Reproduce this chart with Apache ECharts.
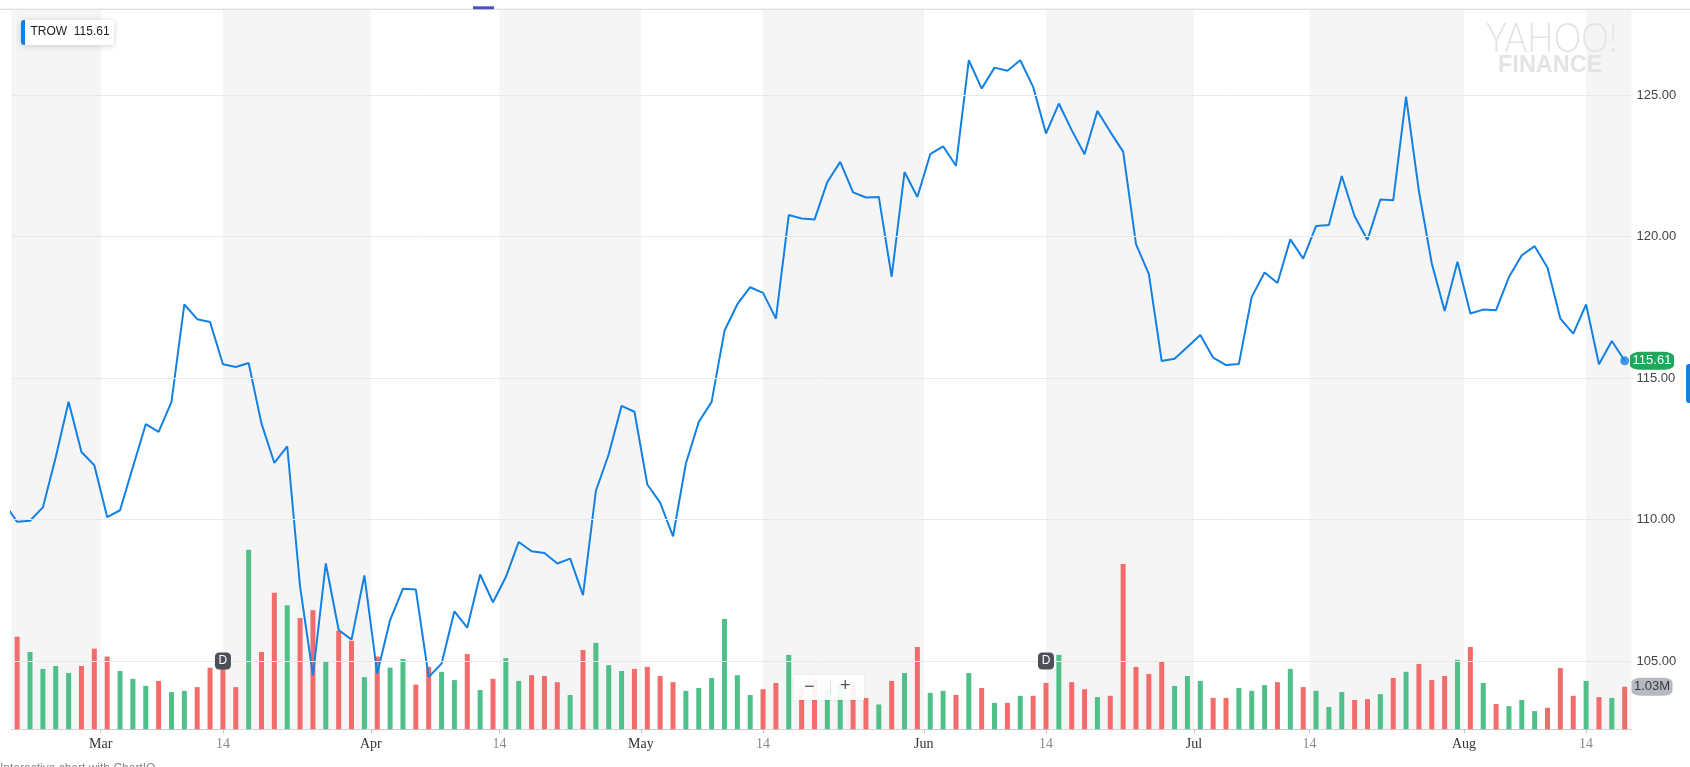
<!DOCTYPE html>
<html>
<head>
<meta charset="utf-8">
<script src="https://cdn.jsdelivr.net/npm/echarts@6/dist/echarts.min.js"></script>
<style>
html,body{margin:0;padding:0;background:#fff;}
#chart{width:1690px;height:767px;}
</style>
</head>
<body>
<div id="chart"></div>
<script>
// ---- data (TROW, trading days Feb 20 – Aug 17) ----
const symbol = 'TROW';
const prevClose = 110.58;   // close of the session before the first visible bar
const closes = [
 109.92,109.96,110.43,112.20,114.16,112.39,111.92,110.09,110.33,111.86,
 113.37,113.10,114.16,117.60,117.08,116.98,115.49,115.39,115.53,113.39,
 112.00,112.59,107.63,104.50,108.45,106.10,105.76,108.03,104.56,106.45,
 107.56,107.53,104.44,104.91,106.76,106.18,108.06,107.08,107.97,109.21,
 108.88,108.82,108.45,108.62,107.33,111.01,112.31,114.02,113.81,111.24,
 110.60,109.41,111.98,113.45,114.16,116.67,117.61,118.21,118.01,117.10,
 120.76,120.64,120.60,121.93,122.64,121.56,121.38,121.40,118.58,122.28,
 121.40,122.91,123.19,122.50,126.23,125.23,125.97,125.86,126.23,125.29,
 123.64,124.70,123.76,122.91,124.44,123.70,123.00,119.73,118.67,115.60,
 115.68,116.10,116.52,115.72,115.46,115.50,117.87,118.73,118.36,119.90,
 119.22,120.37,120.41,122.14,120.72,119.88,121.31,121.28,124.94,121.60,
 119.05,117.37,119.11,117.28,117.42,117.40,118.57,119.34,119.66,118.90,
 117.10,116.57,117.60,115.49,116.31,115.61
];
const volumesM = [
 2.24,1.87,1.46,1.53,1.36,1.53,1.95,1.76,1.41,1.22,
 1.05,1.17,0.90,0.93,1.02,1.49,1.49,1.02,4.34,1.87,
 3.30,3.00,2.69,2.88,1.65,2.38,2.14,1.26,1.76,1.49,
 1.70,1.08,1.51,1.39,1.19,1.82,0.95,1.22,1.72,1.17,
 1.31,1.29,1.14,0.83,1.92,2.09,1.55,1.41,1.46,1.51,
 1.29,1.14,0.93,1.00,1.24,2.67,1.31,0.83,0.97,1.12,
 1.80,1.05,1.20,0.95,1.10,1.15,0.76,0.60,1.17,1.36,
 1.99,0.88,0.93,0.83,1.36,1.00,0.64,0.64,0.81,0.81,
 1.12,1.80,1.14,0.97,0.78,0.81,4.00,1.51,1.34,1.65,
 1.05,1.29,1.17,0.76,0.76,1.00,0.93,1.07,1.14,1.46,
 1.02,0.93,0.54,0.90,0.71,0.73,0.85,1.24,1.39,1.58,
 1.19,1.29,1.68,1.99,1.12,0.61,0.56,0.71,0.44,0.52,
 1.48,0.81,1.17,0.78,0.76,1.03
];
// x-axis ticks (positions in trading-day index) and labels
const tickPos    = [6.5, 16, 27.5, 37.5, 48.5, 58, 70.5, 80, 91.5, 100.5, 112.5, 122];
const tickLabels = ['Mar','14','Apr','14','May','14','Jun','14','Jul','14','Aug','14'];
const priceTicks = [105, 110, 115, 120, 125];
const dividendIdx = [16, 80];

// ---- build ----
const n = closes.length;
const lastIdx = n - 1;
const lastClose = closes[lastIdx];
const lastVol = volumesM[lastIdx];
const priceData = [[-1, prevClose]].concat(closes.map((c, i) => [i, c]));
const volData = volumesM.map((v, i) => {
  const prev = i === 0 ? prevClose : closes[i - 1];
  return { value: [i, v], itemStyle: { color: closes[i] >= prev ? '#4fc08a' : '#f36c6c' } };
});
const labelMap = {};
tickPos.forEach((p, k) => { labelMap[p] = tickLabels[k]; });

const X_MIN = -0.44, X_MAX = 125.53;
const P_MIN = 102.59, P_MAX = 128.03;
const V_MAX = 17.41;

// alternating background bands between ticks
const bandEdges = [X_MIN].concat(tickPos).concat([X_MAX]);
const bands = [];
for (let k = 0; k < bandEdges.length - 1; k += 2) bands.push([bandEdges[k], bandEdges[k + 1]]);

const GRID = { left: 11.5, right: 58.5, top: 9.3, bottom: 37.7 };

const chart = echarts.init(document.getElementById('chart'), null, { renderer: 'canvas' });
chart.setOption({
  animation: false,
  backgroundColor: '#fff',
  grid: [ Object.assign({}, GRID), Object.assign({}, GRID) ],
  xAxis: [
    {
      type: 'value', gridIndex: 0, min: X_MIN, max: X_MAX,
      axisLine: { show: true, lineStyle: { color: '#c9c9c9', width: 1 } },
      axisTick: { show: true, customValues: tickPos, length: 4, lineStyle: { color: '#c9c9c9' } },
      splitLine: { show: false },
      axisLabel: {
        show: true, customValues: tickPos, margin: 8,
        formatter: v => {
          const t = labelMap[v];
          if (t === undefined) return '';
          return t === '14' ? '{d|' + t + '}' : '{m|' + t + '}';
        },
        rich: {
          m: { fontFamily: 'Liberation Serif', fontSize: 14, color: '#333' },
          d: { fontFamily: 'Liberation Serif', fontSize: 14, color: '#8a8a8a' }
        }
      }
    },
    { type: 'value', gridIndex: 1, min: X_MIN, max: X_MAX, show: false }
  ],
  yAxis: [
    {
      type: 'value', gridIndex: 0, position: 'right', min: 0, max: V_MAX,
      axisLine: { show: true, lineStyle: { color: '#c9c9c9' } },
      axisTick: { show: false }, axisLabel: { show: false }, splitLine: { show: false }
    },
    {
      type: 'value', gridIndex: 1, position: 'right', min: P_MIN, max: P_MAX,
      axisLine: { show: false },
      axisTick: { show: true, customValues: priceTicks, length: 4, lineStyle: { color: '#c9c9c9' } },
      axisLabel: {
        show: true, customValues: priceTicks, margin: 5, color: '#444',
        fontFamily: 'Liberation Sans', fontSize: 13,
        formatter: v => v.toFixed(2)
      },
      splitLine: { show: false }
    }
  ],
  series: [
    {
      name: 'bands', type: 'custom', xAxisIndex: 0, yAxisIndex: 0, z: 1, silent: true,
      data: bands,
      renderItem: (params, api) => {
        const p0 = api.coord([api.value(0), V_MAX]);
        const p1 = api.coord([api.value(1), 0]);
        return { type: 'rect', shape: { x: p0[0], y: p0[1], width: p1[0] - p0[0], height: p1[1] - p0[1] }, style: { fill: '#f5f5f5' } };
      }
    },
    {
      name: 'grid', type: 'line', xAxisIndex: 1, yAxisIndex: 1, z: 2, silent: true,
      data: [], symbol: 'none',
      markLine: {
        silent: true, symbol: 'none', label: { show: false },
        lineStyle: { color: '#e9e9e9', width: 1, type: 'solid' },
        data: priceTicks.map(v => ({ yAxis: v }))
      }
    },
    {
      name: 'Volume', type: 'bar', xAxisIndex: 0, yAxisIndex: 0, z: 3,
      barWidth: 5, data: volData,
      markPoint: {
        symbol: 'roundRect', symbolSize: [41, 18], symbolOffset: [27.3, 0],
        itemStyle: { color: '#b5bac1' },
        label: { show: true, color: '#3a3a3a', fontFamily: 'Liberation Sans', fontSize: 13, formatter: () => lastVol.toFixed(2) + 'M' },
        data: [{ coord: [lastIdx, lastVol] }]
      }
    },
    {
      name: symbol, type: 'line', xAxisIndex: 1, yAxisIndex: 1, z: 4, clip: true,
      data: priceData, symbol: 'none', smooth: false,
      lineStyle: { color: '#1381e3', width: 2 },
      markPoint: {
        data: [
          {
            coord: [lastIdx, lastClose], symbol: 'roundRect', symbolSize: [44, 18], symbolOffset: [27.3, 0],
            itemStyle: { color: '#1fa75b' },
            label: { show: true, color: '#fff', fontFamily: 'Liberation Sans', fontSize: 13, formatter: () => lastClose.toFixed(2) }
          }
        ].concat(dividendIdx.map(i => ({
          coord: [i, 105], symbol: 'roundRect', symbolSize: [16, 17],
          itemStyle: { color: '#4d5157' },
          label: { show: true, color: '#fff', fontFamily: 'Liberation Sans', fontSize: 12, formatter: 'D' }
        })))
      }
    },
    {
      name: 'last', type: 'scatter', xAxisIndex: 1, yAxisIndex: 1, z: 5,
      data: [[lastIdx, lastClose]], symbol: 'circle', symbolSize: 9,
      itemStyle: { color: '#1381e3' }, clip: false
    }
  ],
  graphic: [
    { type: 'rect', shape: { x: 0, y: 8.8, width: 1690, height: 1 }, style: { fill: '#d6d6d6' }, z: 10 },
    { type: 'rect', shape: { x: 473, y: 6.3, width: 21, height: 3 }, style: { fill: '#4b4fc0' }, z: 11 },
    { type: 'text', x: 1486, y: 18, scaleX: 0.85, z: 2, style: { text: 'YAHOO!', fontFamily: 'Lato', fontSize: 41, fontWeight: 300, fill: '#e4e4e4' } },
    { type: 'text', x: 1498, y: 54, z: 2, style: { text: 'FINANCE', fontFamily: 'Liberation Sans', fontSize: 23.5, fontWeight: 'bold', fill: '#e4e4e4' } },
    { type: 'rect', shape: { x: 21, y: 20, width: 93, height: 25, r: 3 }, style: { fill: '#fff', shadowBlur: 6, shadowColor: 'rgba(0,0,0,0.18)', shadowOffsetY: 1 }, z: 20 },
    { type: 'rect', shape: { x: 21, y: 20, width: 4, height: 25, r: [3, 0, 0, 3] }, style: { fill: '#1381e3' }, z: 21 },
    { type: 'text', left: 30.5, top: 26, z: 21, style: { text: symbol + '  ' + lastClose.toFixed(2), fontFamily: 'Liberation Sans', fontSize: 12, fill: '#222' } },
    { type: 'rect', shape: { x: 794, y: 675, width: 70, height: 25 }, style: { fill: 'rgba(255,255,255,0.92)', shadowBlur: 3, shadowColor: 'rgba(0,0,0,0.08)' }, z: 20 },
    { type: 'rect', shape: { x: 830, y: 680, width: 1, height: 15 }, style: { fill: '#dddddd' }, z: 21 },
    { type: 'text', left: 804, top: 678, z: 21, style: { text: '−', fontFamily: 'Liberation Sans', fontSize: 18, fill: '#555' } },
    { type: 'text', left: 840, top: 677, z: 21, style: { text: '+', fontFamily: 'Liberation Sans', fontSize: 18, fill: '#555' } },
    { type: 'rect', shape: { x: 1686, y: 364, width: 8, height: 39, r: 3 }, style: { fill: '#1381e3' }, z: 20 },
    { type: 'text', left: 0, top: 763, z: 20, style: { text: 'Interactive chart with ChartIQ', fontFamily: 'Liberation Sans', fontSize: 12, fill: '#888' } }
  ]
});
</script>
</body>
</html>
